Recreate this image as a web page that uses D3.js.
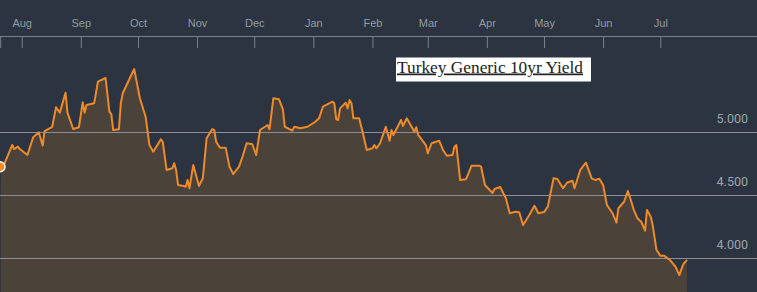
<!DOCTYPE html>
<html><head><meta charset="utf-8">
<script src="https://cdn.jsdelivr.net/npm/d3@7"></script>
<style>
html,body{margin:0;padding:0;background:#2b3440;overflow:hidden}
svg{display:block}
</style></head>
<body>
<svg id="chart" width="757" height="292"></svg>
<script>
const title = "Turkey Generic 10yr Yield";
const monthLabels = ["Aug","Sep","Oct","Nov","Dec","Jan","Feb","Mar","Apr","May","Jun","Jul"];
const monthTickDates = ["2015-08-01","2015-09-01","2015-10-01","2015-11-01","2015-12-01","2016-01-01","2016-02-01","2016-03-01","2016-04-01","2016-05-01","2016-06-01","2016-07-01"];
const yTicks = [4.0, 4.5, 5.0];
const dates = [
"2015-07-21","2015-07-23","2015-07-27","2015-07-28","2015-07-30","2015-07-31","2015-08-04","2015-08-07","2015-08-10","2015-08-12",
"2015-08-13","2015-08-17","2015-08-19","2015-08-21","2015-08-24","2015-08-25","2015-08-28","2015-08-31","2015-09-02","2015-09-03",
"2015-09-04","2015-09-08","2015-09-10","2015-09-14","2015-09-16","2015-09-17","2015-09-18","2015-09-21","2015-09-22","2015-09-23",
"2015-09-29","2015-10-02","2015-10-05","2015-10-07","2015-10-09","2015-10-13","2015-10-14","2015-10-16","2015-10-19","2015-10-20",
"2015-10-21","2015-10-22","2015-10-25","2015-10-26","2015-10-27","2015-10-28","2015-10-30","2015-11-02","2015-11-04","2015-11-06",
"2015-11-09","2015-11-10","2015-11-11","2015-11-13","2015-11-16","2015-11-18","2015-11-20","2015-11-23","2015-11-25","2015-11-27",
"2015-11-30","2015-12-02","2015-12-04","2015-12-08","2015-12-09","2015-12-11","2015-12-14","2015-12-16","2015-12-17","2015-12-21",
"2015-12-22","2015-12-25","2015-12-29","2016-01-02","2016-01-04","2016-01-06","2016-01-11","2016-01-12","2016-01-13","2016-01-14",
"2016-01-15","2016-01-18","2016-01-19","2016-01-20","2016-01-21","2016-01-22","2016-01-25","2016-01-27","2016-01-29","2016-02-01",
"2016-02-02","2016-02-03","2016-02-05","2016-02-08","2016-02-10","2016-02-11","2016-02-12","2016-02-16","2016-02-17","2016-02-19",
"2016-02-23","2016-02-24","2016-02-25","2016-02-29","2016-03-01","2016-03-03","2016-03-07","2016-03-09","2016-03-11","2016-03-14",
"2016-03-15","2016-03-16","2016-03-18","2016-03-21","2016-03-22","2016-03-24","2016-03-28","2016-03-29","2016-03-31","2016-04-04",
"2016-04-05","2016-04-08","2016-04-11","2016-04-13","2016-04-16","2016-04-18","2016-04-20","2016-04-23","2016-04-26","2016-04-28",
"2016-05-01","2016-05-03","2016-05-06","2016-05-08","2016-05-11","2016-05-13","2016-05-16","2016-05-17","2016-05-20","2016-05-23",
"2016-05-26","2016-05-28","2016-05-30","2016-06-01","2016-06-03","2016-06-06","2016-06-08","2016-06-09","2016-06-12","2016-06-14",
"2016-06-15","2016-06-17","2016-06-19","2016-06-21","2016-06-23","2016-06-24","2016-06-26","2016-06-27","2016-06-29","2016-07-01",
"2016-07-03","2016-07-06","2016-07-09","2016-07-11","2016-07-13","2016-07-15"
];
const yields = [
4.727,4.754,4.899,4.867,4.886,4.867,4.820,4.960,5.000,4.894,
5.010,5.044,5.198,5.156,5.314,5.156,5.026,5.040,5.238,5.156,
5.217,5.230,5.402,5.431,5.163,5.145,5.018,5.024,5.230,5.310,
5.502,5.270,5.124,4.899,4.846,4.944,4.925,4.701,4.714,4.754,
4.701,4.582,4.574,4.568,4.621,4.556,4.740,4.574,4.635,4.952,
5.026,5.018,4.925,4.878,4.878,4.727,4.669,4.727,4.814,4.913,
4.905,4.820,5.018,5.058,5.024,5.270,5.262,5.183,5.044,5.013,
5.044,5.032,5.044,5.084,5.111,5.203,5.243,5.230,5.103,5.098,
5.190,5.235,5.190,5.256,5.230,5.111,5.111,4.992,4.860,4.873,
4.899,4.873,4.913,5.044,4.933,5.018,4.979,5.098,5.050,5.111,
5.005,5.040,4.979,4.899,4.833,4.913,4.933,4.860,4.814,4.820,
4.886,4.899,4.621,4.627,4.661,4.735,4.735,4.727,4.582,4.518,
4.550,4.566,4.476,4.357,4.370,4.365,4.264,4.336,4.417,4.357,
4.367,4.410,4.635,4.629,4.556,4.600,4.616,4.556,4.701,4.759,
4.635,4.621,4.632,4.582,4.423,4.357,4.283,4.397,4.449,4.534,
4.489,4.389,4.317,4.290,4.219,4.383,4.330,4.264,4.066,4.021,
4.021,3.987,3.933,3.867,3.952,3.987
];

const W = 757, H = 292;
const parse = d3.timeParse("%Y-%m-%d");
const data = dates.map((d,i)=>({date: parse(d), value: yields[i]}));
const tickDates = monthTickDates.map(parse);

const x = d3.scaleTime().domain([tickDates[0], tickDates[tickDates.length-1]]).range([21.7, 660.3]);
const y = d3.scaleLinear().domain([4, 5]).range([258.3, 132.3]);

const svg = d3.select("#chart");
svg.append("rect").attr("width", W).attr("height", H).attr("fill", "#2b3440");

// area
svg.append("path").datum(data)
  .attr("fill", "#4b4239")
  .attr("d", d3.area().x(d=>x(d.date)).y0(H).y1(d=>y(d.value)));

// grid lines + right labels
const grid = svg.append("g");
grid.selectAll("line").data(yTicks).join("line")
  .attr("x1", 0).attr("x2", W)
  .attr("y1", d=>Math.round(y(d))+0.5).attr("y2", d=>Math.round(y(d))+0.5)
  .attr("stroke", "#8c9096").attr("stroke-width", 1);
grid.selectAll("text").data(yTicks).join("text")
  .attr("x", 748).attr("y", d=>y(d)-9)
  .attr("text-anchor", "end")
  .attr("fill", "#9ea4ab")
  .attr("font-family", "Roboto, 'Liberation Sans', Arial, sans-serif")
  .attr("font-size", 12.5)
  .text(d=>d3.format(".3f")(d));

// line
svg.append("path").datum(data)
  .attr("fill", "none")
  .attr("stroke", "#ee8a2a")
  .attr("stroke-width", 2)
  .attr("stroke-linejoin", "round")
  .attr("d", d3.line().x(d=>x(d.date)).y(d=>y(d.value)));

// top axis
const axisG = svg.append("g").attr("transform", "translate(0,36)");
axisG.call(d3.axisBottom(x).tickValues(tickDates).tickSize(12).tickFormat((d,i)=>monthLabels[i]));
axisG.select(".domain").remove();
axisG.selectAll(".tick line").attr("stroke", "#7c828a");
axisG.selectAll(".tick text").attr("y", -9.5).attr("dy", null)
  .attr("fill", "#959ba3")
  .attr("font-family", "'Liberation Sans', Arial, sans-serif")
  .attr("font-size", 11);
axisG.append("line").attr("x1", 0).attr("x2", W).attr("y1", 0.5).attr("y2", 0.5).attr("stroke", "#7c828a");
axisG.append("line").attr("x1", x(data[0].date)).attr("x2", x(data[0].date)).attr("y1", 0).attr("y2", 12).attr("stroke", "#7c828a");

// start marker
svg.append("circle")
  .attr("cx", x(data[0].date) - 0.7).attr("cy", y(data[0].value))
  .attr("r", 5).attr("fill", "#ee8a2a").attr("stroke", "#ffffff").attr("stroke-width", 1.5);

// title box
const tb = svg.append("g");
tb.append("rect").attr("x", 396).attr("y", 57.5).attr("width", 195).attr("height", 24).attr("fill", "#ffffff");
const tt = tb.append("text").attr("x", 397).attr("y", 72.5)
  .attr("font-family", "'Liberation Serif', 'Times New Roman', serif")
  .attr("font-size", 18).attr("fill", "#222222")
  .attr("text-decoration", "underline")
  .text(title);
const len = tt.node().getComputedTextLength();
tt.attr("font-size", 18 * 186 / len);
</script>
</body></html>
